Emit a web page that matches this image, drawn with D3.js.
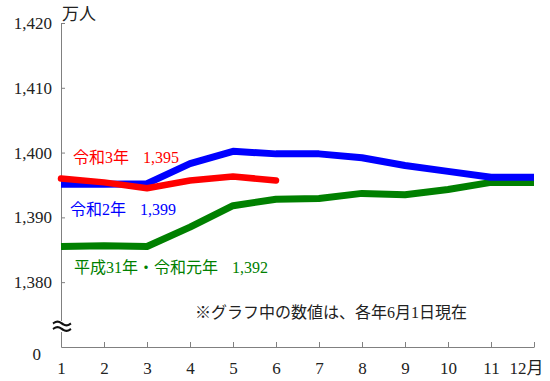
<!DOCTYPE html>
<html>
<head>
<meta charset="utf-8">
<script src="https://cdn.jsdelivr.net/npm/d3@7"></script>
<style>
  html, body { margin: 0; padding: 0; background: #fff; }
  svg { display: block; }
</style>
</head>
<body>
<svg id="chart" width="550" height="381"></svg>
<script>
// ---- data ----
const months = [1, 2, 3, 4, 5, 6, 7, 8, 9, 10, 11, 12];
const valuesH31R1 = [1385.5, 1385.6, 1385.5, 1388.5, 1391.8, 1392.8, 1392.9, 1393.7, 1393.5, 1394.3, 1395.4, 1395.4];
const valuesR2 = [1395.1, 1395.1, 1395.2, 1398.3, 1400.2, 1399.8, 1399.8, 1399.2, 1398.0, 1397.1, 1396.2, 1396.2];
const valuesR3 = [1396.0, 1395.4, 1394.5, 1395.7, 1396.3, 1395.7];
const seriesNames = ["平成31年・令和元年", "令和2年", "令和3年"];
const seriesLabels = ["1,392", "1,399", "1,395"];
const yTickValues = [0, 1380, 1390, 1400, 1410, 1420];
const yUnit = "万人";
const xLastSuffix = "月";
const note = "※グラフ中の数値は、各年6月1日現在";

// ---- layout ----
const FONT = "'Liberation Serif', 'Times New Roman', 'DejaVu Serif', 'Noto Sans CJK JP', serif";
const svg = d3.select("#chart");
const colors = ["#008000", "#0000ff", "#ff0000"];
const widths = [7, 7, 6.5];

const x = d3.scaleLinear().domain([1, 12]).range([61, 534]);
// broken axis: 0 at bottom, gap, then 1373..1420
const y = d3.scaleLinear().domain([0, 1373, 1420]).range([347, 327.5, 23]);

// y axis
const yAxis = d3.axisLeft(y)
  .tickValues(yTickValues)
  .tickSizeInner(-4).tickSizeOuter(0).tickPadding(9)
  .tickFormat(d => d === 0 ? "0" : d3.format(",")(d));
const gy = svg.append("g").attr("transform", "translate(61,0)").call(yAxis)
  .attr("font-family", null).attr("font-size", null);
gy.select(".domain").attr("stroke", "#808080");
gy.selectAll(".tick line").attr("stroke", "#808080").filter(d => d === 0).remove();
gy.selectAll(".tick text").style("font-family", FONT).style("font-size", "17px").attr("fill", "#222");
gy.selectAll(".tick text").filter(d => d === 0).attr("x", -20).attr("dy", "0.75em");

// x axis
const xAxis = d3.axisBottom(x)
  .tickValues(months)
  .tickSizeInner(-5).tickSizeOuter(0).tickPadding(15)
  .tickFormat(d => d === 12 ? d + xLastSuffix : String(d));
const gx = svg.append("g").attr("transform", "translate(0,347)").call(xAxis)
  .attr("font-family", null).attr("font-size", null);
gx.select(".domain").attr("stroke", "#808080");
gx.selectAll(".tick line").attr("stroke", "#808080");
gx.selectAll(".tick text").style("font-family", FONT).style("font-size", "17px").attr("fill", "#222");
gx.selectAll(".tick text").filter(d => d === 12).attr("dx", -8);

// unit
svg.append("text").attr("x", 62).attr("y", 20).style("font-family", FONT).style("font-size", "17px")
  .attr("fill", "#222").text(yUnit);

// axis break mark
const bx0 = 53, bx1 = 71;
svg.append("rect").attr("x", 56).attr("y", 321).attr("width", 12).attr("height", 11).attr("fill", "#fff");
[323.5, 329].forEach(by => {
  const pts = d3.range(0, 1.0001, 0.1).map(t => [bx0 + t * (bx1 - bx0), by - 2 * Math.sin(t * 2 * Math.PI)]);
  svg.append("path").attr("d", d3.line().curve(d3.curveBasis)(pts))
    .attr("fill", "none").attr("stroke", "#111").attr("stroke-width", 2.2);
});

// lines
const allSeries = [valuesH31R1, valuesR2, valuesR3];
const line = d3.line().x((d, i) => x(months[i])).y(d => y(d));
allSeries.forEach((vals, k) => {
  svg.append("path").datum(vals)
    .attr("d", line)
    .attr("fill", "none")
    .attr("stroke", colors[k])
    .attr("stroke-width", widths[k])
    .attr("stroke-linejoin", "round")
    .attr("stroke-linecap", k === 2 ? "round" : "butt");
});

// series labels
const labelPos = [[74, 273], [70, 215], [73, 163]];
seriesNames.forEach((name, k) => {
  const t = svg.append("text").attr("x", labelPos[k][0]).attr("y", labelPos[k][1])
    .style("font-family", FONT).style("font-size", "16px").attr("fill", colors[k]);
  t.append("tspan").text(name);
  t.append("tspan").attr("dx", 14).text(seriesLabels[k]);
});

// note
svg.append("text").attr("x", 195).attr("y", 318).style("font-family", FONT).style("font-size", "16px")
  .attr("fill", "#222").text(note);
</script>
</body>
</html>
